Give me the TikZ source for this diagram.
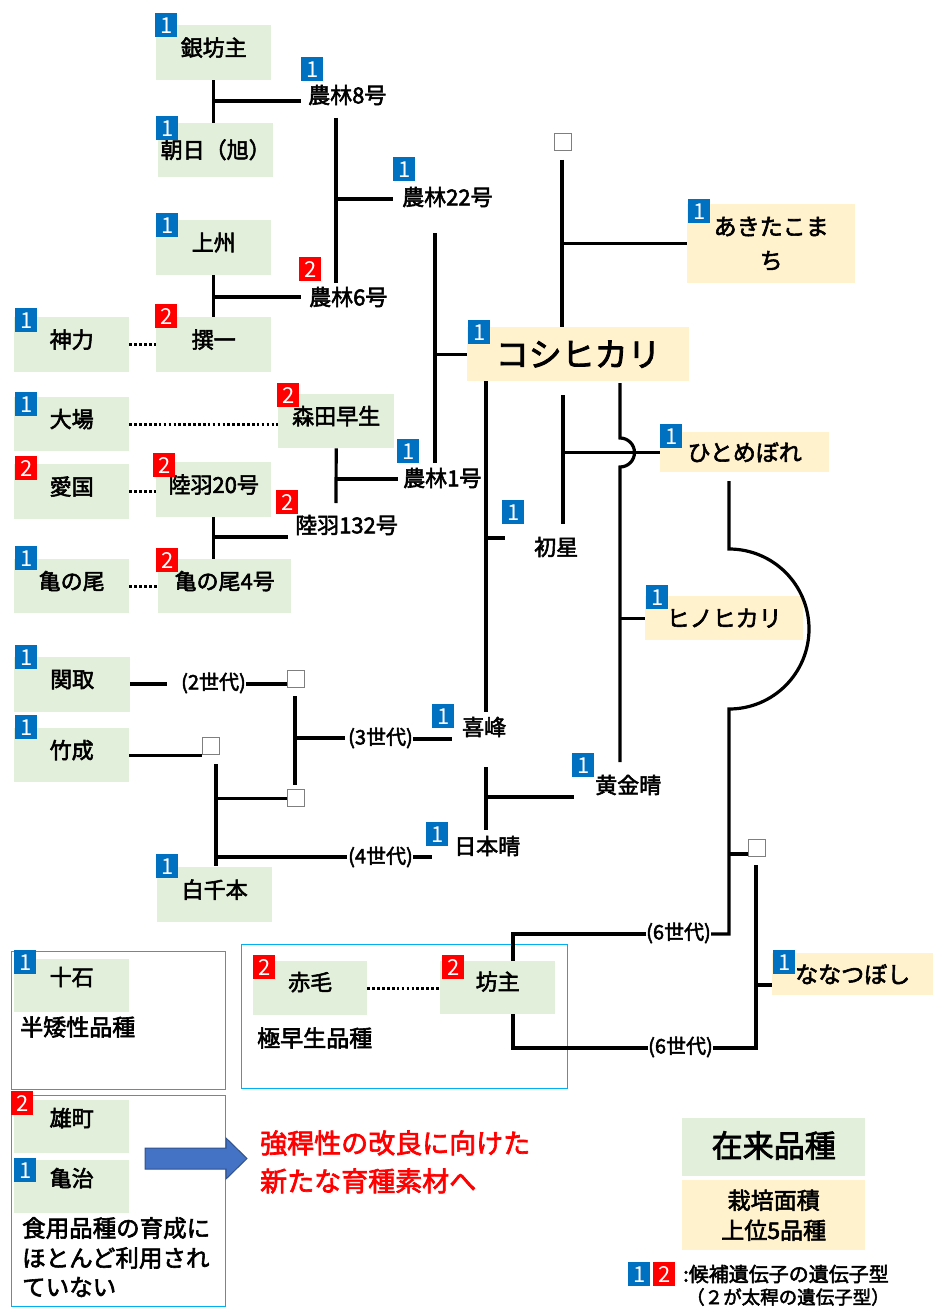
\documentclass[tikz,border=0pt]{standalone}
\usepackage{fontspec}
\setmainfont{Noto Sans CJK JP}[FakeBold=2.5]
\newfontfamily\badgefont{Noto Sans CJK JP}
\definecolor{gfill}{HTML}{E2EFDA}
\definecolor{cfill}{HTML}{FFF2CC}
\definecolor{bblue}{HTML}{0070C0}
\definecolor{bred}{HTML}{FF0000}
\definecolor{cyanb}{HTML}{00B0F0}
\definecolor{sqgray}{HTML}{7F7F7F}
\definecolor{arrfill}{HTML}{4472C4}
\definecolor{arrline}{HTML}{2F528F}
\newcommand\myfs[1]{\fontsize{#1}{#1}\selectfont}
\begin{document}
\begin{tikzpicture}[x=1pt,y=-1pt,
  conn/.style={line width=3.2pt},
  dots/.style={line width=3pt, dash pattern=on 2.6pt off 2.3pt},
  gbox/.style={fill=gfill, inner sep=0pt, anchor=north west, font=\myfs{22}, text depth=12pt},
  cbox/.style={fill=cfill, inner sep=0pt, anchor=north west, font=\myfs{23}},
  badge/.style={inner sep=0pt, anchor=north west, minimum width=22, minimum height=24, text=white, font=\badgefont\fontsize{22}{22}\selectfont},
  bb/.style={badge, fill=bblue},
  rb/.style={badge, fill=bred},
  lbl/.style={inner sep=0pt, anchor=west, font=\myfs{22}},
  gen/.style={inner sep=0pt, anchor=west, font=\myfs{20}},
  sq/.style={draw=sqgray, line width=1.3pt, fill=white, minimum size=17, inner sep=0pt, anchor=north west},
  grp/.style={draw=cyanb, line width=1.4pt, inner sep=0pt, anchor=north west},
  redtxt/.style={inner sep=0pt, anchor=west, text=bred, font=\myfs{27}}
]
\useasboundingbox (0,0) rectangle (933,1308);

% group frames
\node[grp, minimum width=214, minimum height=138] (grp1) at (11,951) {};
\node[grp, minimum width=326, minimum height=144] (grp2) at (241,944) {};
\node[grp, minimum width=214, minimum height=211] (grp3) at (11,1095) {};

% green boxes
\node[gbox, minimum width=115, minimum height=55] (ginbo) at (156,25) {銀坊主};
\node[gbox, minimum width=115, minimum height=54, text depth=3pt, xshift=2pt] (asahi) at (156,123) {朝日（旭）};
\node[gbox, minimum width=115, minimum height=55] (joshu) at (156,220) {上州};
\node[gbox, minimum width=115, minimum height=55] (senichi) at (156,317) {撰一};
\node[gbox, minimum width=115, minimum height=55] (shinriki) at (14,317) {神力};
\node[gbox, minimum width=115, minimum height=54] (oba) at (14,397) {大場};
\node[gbox, minimum width=116, minimum height=54] (morita) at (278,394) {森田早生};
\node[gbox, minimum width=115, minimum height=55] (aikoku) at (14,464) {愛国};
\node[gbox, minimum width=115, minimum height=55] (rikuu20) at (156,462) {陸羽20号};
\node[gbox, minimum width=115, minimum height=54] (kamenoo) at (14,559) {亀の尾};
\node[gbox, minimum width=133, minimum height=54] (kamenoo4) at (158,559) {亀の尾4号};
\node[gbox, minimum width=116, minimum height=55] (sekitori) at (14,657) {関取};
\node[gbox, minimum width=115, minimum height=54] (takenari) at (14,728) {竹成};
\node[gbox, minimum width=115, minimum height=55] (shirochi) at (157,867) {白千本};
\node[gbox, minimum width=115, minimum height=53, text depth=19pt] (jikkoku) at (14,959) {十石};
\node[gbox, minimum width=114, minimum height=54, text depth=14pt] (akage) at (253,961) {赤毛};
\node[gbox, minimum width=115, minimum height=53, text depth=14pt] (bozu) at (440,961) {坊主};
\node[gbox, minimum width=115, minimum height=53, text depth=19pt] (omachi) at (14,1100) {雄町};
\node[gbox, minimum width=115, minimum height=53, text depth=19pt] (kameji) at (14,1160) {亀治};
\node[gbox, minimum width=183, minimum height=58, font=\myfs{31}, text depth=6pt] (zairai) at (682,1118) {在来品種};

% cream boxes
\node[cbox, minimum width=222, minimum height=54, font=\myfs{33}] (koshi) at (467,327) {コシヒカリ};
\node[cbox, minimum width=168, minimum height=79, align=center, font=\fontsize{23}{34}\selectfont] (akita) at (687,204) {あきたこま\\ち};
\node[cbox, minimum width=169, minimum height=40] (hitome) at (660,432) {ひとめぼれ};
\node[cbox, minimum width=158, minimum height=44] (hino) at (645,596) {ヒノヒカリ};
\node[cbox, minimum width=161, minimum height=42] (nana) at (772,953) {ななつぼし};
\node[cbox, minimum width=183, minimum height=70, align=center, font=\fontsize{23}{30}\selectfont] (saibai) at (682,1180) {栽培面積\\上位5品種};

% plain labels
\node[lbl] (n8) at (308,95) {農林8号};
\node[lbl] (n6) at (309,297) {農林6号};
\node[lbl] (n22) at (402,197) {農林22号};
\node[lbl] (n1) at (403,478) {農林1号};
\node[lbl] (r132) at (295,525) {陸羽132号};
\node[lbl] (hatsu) at (534,547) {初星};
\node[lbl] (kiho) at (462,727) {喜峰};
\node[lbl] (kogane) at (595,785) {黄金晴};
\node[lbl] (nihon) at (454,846) {日本晴};
\node[gen] (g2) at (181,683) {(2世代)};
\node[gen] (g3) at (348,738) {(3世代)};
\node[gen] (g4) at (348,857) {(4世代)};
\node[gen] (g6a) at (646,933) {(6世代)};
\node[gen] (g6b) at (648,1047) {(6世代)};
\node[lbl, font=\myfs{23}] (han) at (20,1027) {半矮性品種};
\node[lbl, font=\myfs{23}] (goku) at (257,1038) {極早生品種};
\node[lbl, font=\myfs{23.5}] (sy1) at (22,1228) {食用品種の育成に};
\node[lbl, font=\myfs{23.5}] (sy2) at (22,1258) {ほとんど利用され};
\node[lbl, font=\myfs{23.5}] (sy3) at (22,1287) {ていない};
\node[redtxt] (red1) at (260,1143) {強稈性の改良に向けた};
\node[redtxt] (red2) at (260,1181) {新たな育種素材へ};
\node[lbl, font=\myfs{20}] (leg1) at (683,1274) {:候補遺伝子の遺伝子型};
\node[lbl, font=\myfs{18.5}] (leg2) at (686,1297) {（２が太稈の遺伝子型）};

% unknown-line squares
\node[sq] (sqtop) at (554,133) {};
\node[sq] (sq1) at (287,670) {};
\node[sq] (sq2) at (202,737) {};
\node[sq] (sq3) at (287,789) {};
\node[sq] (sqn) at (748,839) {};

% badges
\node[bb] (b1) at (155,13) {1};
\node[bb] (b2) at (156,116) {1};
\node[bb] (b3) at (156,213) {1};
\node[rb] (b4) at (155,304) {2};
\node[bb] (b5) at (15,308) {1};
\node[bb] (b6) at (15,392) {1};
\node[rb] (b7) at (277,383) {2};
\node[rb] (b8) at (15,456) {2};
\node[rb] (b9) at (153,453) {2};
\node[bb] (b10) at (15,546) {1};
\node[rb] (b11) at (156,548) {2};
\node[bb] (b12) at (301,57) {1};
\node[rb] (b13) at (299,257) {2};
\node[bb] (b14) at (393,157) {1};
\node[bb] (b15) at (397,439) {1};
\node[rb] (b16) at (276,490) {2};
\node[bb] (b17) at (468,320) {1};
\node[bb] (b18) at (688,199) {1};
\node[bb] (b19) at (660,424) {1};
\node[bb] (b20) at (502,500) {1};
\node[bb] (b21) at (646,585) {1};
\node[bb] (b22) at (432,704) {1};
\node[bb] (b23) at (572,753) {1};
\node[bb] (b24) at (426,822) {1};
\node[bb] (b25) at (15,645) {1};
\node[bb] (b26) at (15,715) {1};
\node[bb] (b27) at (156,854) {1};
\node[bb] (b28) at (773,950) {1};
\node[bb] (b29) at (14,950) {1};
\node[rb] (b30) at (253,955) {2};
\node[rb] (b31) at (442,955) {2};
\node[rb] (b32) at (11,1091) {2};
\node[bb] (b33) at (14,1158) {1};
\node[bb] (b34) at (628,1262) {1};
\node[rb] (b35) at (653,1262) {2};

% coordinates for free ends
\coordinate (e8) at (301,101);
\coordinate (e6) at (301,297);
\coordinate (a8) at (336,118);
\coordinate (a6) at (336,283);
\coordinate (e22) at (393,199);
\coordinate (a22) at (435,233);
\coordinate (a1) at (435,463);
\coordinate (m132) at (336,503);
\coordinate (e1) at (398,479);
\coordinate (e132) at (288,537);
\coordinate (kd) at (486,712);
\coordinate (eh) at (505,538);
\coordinate (ht1) at (563,395);
\coordinate (ht2) at (563,524);
\coordinate (hv1) at (620,383);
\coordinate (hv2) at (620,762);
\coordinate (hc1) at (729,481);
\coordinate (hc2) at (729,934);
\coordinate (bz1) at (513,934);
\coordinate (tn) at (748,854);
\coordinate (nv1) at (756,865);
\coordinate (nv2) at (756,1048);
\coordinate (bz2) at (513,1048);
\coordinate (tnn) at (772,985);
\coordinate (kk1) at (486,767);
\coordinate (kk2) at (486,830);
\coordinate (ek) at (574,797);
\coordinate (sg1) at (167,684);
\coordinate (v3a) at (295,696);
\coordinate (v3b) at (295,785);
\coordinate (c3) at (345,738);
\coordinate (kh) at (452,739);
\coordinate (v4a) at (216,764);
\coordinate (v4b) at (216,866);
\coordinate (c4) at (347,857);
\coordinate (nh) at (432,857);
\coordinate (t1) at (562,160);

% connectors
\draw[conn] (ginbo.south) -- (asahi.north -| ginbo.south);
\draw[conn] (ginbo.south |- e8) -- (e8);
\draw[conn] (joshu.south) -- (senichi.north);
\draw[conn] (joshu.south |- e6) -- (e6);
\draw[conn] (a8) -- (a6);
\draw[conn] (a8 |- e22) -- (e22);
\draw[conn] (a22) -- (a1);
\draw[conn] (a22 |- koshi.west) -- (koshi.west);
\draw[conn] (morita.south) -- (m132);
\draw[conn] (morita.south |- e1) -- (e1);
\draw[conn] (rikuu20.south) -- (rikuu20.south |- kamenoo4.north);
\draw[conn] (rikuu20.south |- e132) -- (e132);
\draw[conn] (kd |- koshi.south) -- (kd);
\draw[conn] (kd |- eh) -- (eh);
\draw[conn] (ht1) -- (ht2);
\draw[conn] (ht1 |- hitome.west) -- (hitome.west);
\draw[conn] (hv1) -- ++(0,55) arc[start angle=-90, end angle=90, radius=14.5] -- (hv2);
\draw[conn] (hv2 |- hino.west) -- (hino.west);
\draw[conn] (hc1) -- ++(0,68) arc[start angle=-90, end angle=90, radius=80] -- (hc2) -- (g6a.east |- hc2);
\draw[conn] (g6a.west |- bz1) -- (bz1) -- (bz1 |- bozu.north);
\draw[conn] (tn -| hc1) -- (tn);
\draw[conn] (nv1) -- (nv2) -- (g6b.east |- nv2);
\draw[conn] (g6b.west |- bz2) -- (bz2) -- (bz2 |- bozu.south);
\draw[conn] (nv1 |- tnn) -- (tnn);
\draw[conn] (kk1) -- (kk2);
\draw[conn] (kk1 |- ek) -- (ek);
\draw[conn] (sekitori.east |- sg1) -- (sg1);
\draw[conn] (g2.east |- sg1) -- (sq1.west |- sg1);
\draw[conn] (takenari.east) -- (takenari.east -| sq2.west);
\draw[conn] (v3a) -- (v3b);
\draw[conn] (v3a |- c3) -- (c3);
\draw[conn] (g3.east |- kh) -- (kh);
\draw[conn] (v4a) -- (v4b);
\draw[conn] (v4a |- sq3.west) -- (sq3.west);
\draw[conn] (v4a |- c4) -- (c4);
\draw[conn] (g4.east |- nh) -- (nh);
\draw[conn] (t1) -- (t1 |- koshi.north);
\draw[conn] (t1 |- akita.west) -- (akita.west);

% dotted links
\draw[dots] (shinriki.east) -- (senichi.west);
\draw[dots] (oba.east) -- (oba.east -| morita.west);
\draw[dots] (aikoku.east) -- (aikoku.east -| rikuu20.west);
\draw[dots] (kamenoo.east) -- (kamenoo4.west);
\draw[dots] (akage.east) -- (akage.east -| bozu.west);

% blue arrow
\draw[fill=arrfill, draw=arrline, line width=1pt] (145,1148) -- (226,1148) -- (226,1138) -- (247,1158.5) -- (226,1179) -- (226,1169) -- (145,1169) -- cycle;
\end{tikzpicture}
\end{document}
